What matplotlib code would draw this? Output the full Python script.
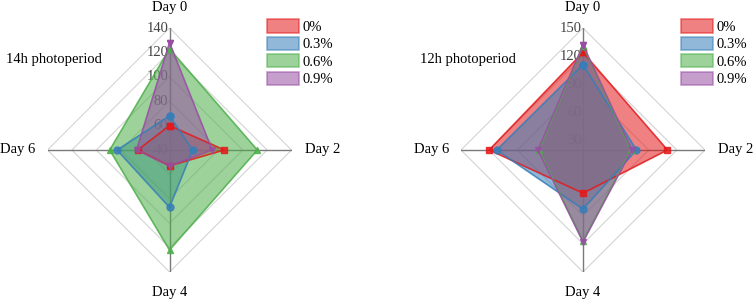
import numpy as np
import matplotlib.pyplot as plt
from matplotlib.patches import Patch

plt.rcParams['font.family'] = ['Liberation Serif', 'DejaVu Serif']

days = ['Day 0', 'Day 2', 'Day 4', 'Day 6']
groups = ['0%', '0.3%', '0.6%', '0.9%']
colors = ['#E41A1C', '#377EB8', '#4DAF4A', '#984EA3']
markers = ['s', 'o', '^', 'v']

# 14h photoperiod (Day 0, Day 2, Day 4, Day 6)
p14_0 = [60, 85, 53, 66]
p14_03 = [68, 59, 87, 83]
p14_06 = [123, 112, 122, 89]
p14_09 = [128, 75, 53, 67]
ticks14 = [40, 60, 80, 100, 120, 140]

# 12h photoperiod
p12_0 = [124, 110, 66, 120]
p12_03 = [111, 77, 83, 112]
p12_06 = [131, 71, 117, 67]
p12_09 = [132, 72, 118, 68]
ticks12 = [30, 60, 90, 120, 150]


def radar(ax, data, vmin, vmax, ticks, title):
    ang = np.deg2rad([90, 0, -90, 180])
    ax.set_xlim(-1, 1)
    ax.set_ylim(-1, 1)
    ax.set_aspect('equal')
    ax.axis('off')

    # diamond grid
    for t in ticks:
        r = (t - vmin) / (vmax - vmin)
        if r <= 0:
            continue
        ax.plot(r * np.cos(np.append(ang, ang[0])), r * np.sin(np.append(ang, ang[0])),
                color='#d4d4d4', lw=0.8, zorder=1)
    for a in ang:
        ax.plot([0, np.cos(a)], [0, np.sin(a)], color='#7a7a7a', lw=1, zorder=1)
    for t in ticks:
        r = (t - vmin) / (vmax - vmin)
        ax.text(-0.01, r, str(t), ha='right', va='center', fontsize=10.5,
                color='#444444', zorder=2)

    # series
    for vals, c, m in zip(data, colors, markers):
        r = (np.array(vals) - vmin) / (vmax - vmin)
        x = np.append(r * np.cos(ang), r[0] * np.cos(ang[0]))
        y = np.append(r * np.sin(ang), r[0] * np.sin(ang[0]))
        ax.fill(x, y, color=c, alpha=0.55, lw=0, zorder=3)
        ax.plot(x, y, color=c, lw=1.2, alpha=0.85, marker=m, ms=5, zorder=4)

    # axis names
    ax.text(0, 1.165, days[0], ha='center', va='center', fontsize=10.5)
    ax.text(1.11, 0, days[1], ha='left', va='center', fontsize=10.5)
    ax.text(0, -1.17, days[2], ha='center', va='center', fontsize=10.5)
    ax.text(-1.1, 0, days[3], ha='right', va='center', fontsize=10.5)

    ax.text(-1.34, 0.74, title, ha='left', va='center', fontsize=10.5)

    handles = [Patch(facecolor=c, edgecolor=c, alpha=0.55, lw=1.2) for c in colors]
    ax.legend(handles, groups, loc='upper left', bbox_to_anchor=(0.80, 1.07),
              bbox_transform=ax.transData, frameon=False, fontsize=10.5,
              handlelength=2.2, handleheight=1.0, handletextpad=0.25,
              labelspacing=0.2, borderpad=0, borderaxespad=0)


fig = plt.figure(figsize=(7.53, 3.03), dpi=100)
ax1 = fig.add_axes([47.5 / 753, 31 / 303, 244 / 753, 244 / 303])
ax2 = fig.add_axes([461 / 753, 31 / 303, 244 / 753, 244 / 303])

radar(ax1, [p14_0, p14_03, p14_06, p14_09], 40, 140, ticks14, '14h photoperiod')
radar(ax2, [p12_0, p12_03, p12_06, p12_09], 20, 150, ticks12, '12h photoperiod')

fig.savefig('out.png', dpi=100)
